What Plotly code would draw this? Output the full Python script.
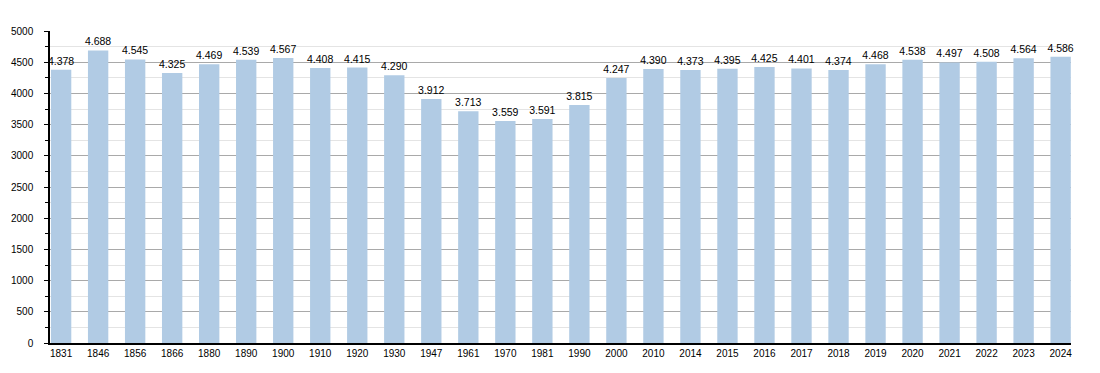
import plotly.graph_objects as go

years = ["1831", "1846", "1856", "1866", "1880", "1890", "1900", "1910", "1920", "1930",
         "1947", "1961", "1970", "1981", "1990", "2000", "2010", "2014", "2015", "2016",
         "2017", "2018", "2019", "2020", "2021", "2022", "2023", "2024"]
population = [4378, 4688, 4545, 4325, 4469, 4539, 4567, 4408, 4415, 4290,
              3912, 3713, 3559, 3591, 3815, 4247, 4390, 4373, 4395, 4425,
              4401, 4374, 4468, 4538, 4497, 4508, 4564, 4586]

fig = go.Figure(go.Bar(
    x=list(range(len(years))),
    y=population,
    width=0.55,
    marker=dict(color="#b1cbe4", line=dict(width=0)),
    texttemplate="%{y:,}",
    textposition="outside",
    constraintext="none",
    textfont=dict(family="Liberation Sans, Arial, sans-serif", size=10.5, color="#000"),
    cliponaxis=False,
    hoverinfo="skip",
))

fig.update_layout(
    width=1100, height=373,
    margin=dict(l=42, r=37, t=23, b=38, autoexpand=False),
    paper_bgcolor="white", plot_bgcolor="white",
    separators=",.",
    showlegend=False,
    font=dict(family="Liberation Sans, Arial, sans-serif", size=10, color="#000"),
    xaxis=dict(
        tickmode="array",
        tickvals=list(range(len(years))),
        ticktext=years,
        range=[-0.3, len(years) - 0.72],
        showgrid=False,
        showline=True, linecolor="#000", linewidth=1.5,
        ticks="", tickfont=dict(size=10),
        zeroline=False,
        automargin=False,
    ),
    yaxis=dict(
        range=[0, 5000],
        dtick=500,
        showgrid=True, gridcolor="#a9a9a9", gridwidth=1,
        showline=True, linecolor="#000", linewidth=1.5,
        ticks="outside", ticklen=4, tickcolor="#000",
        tickfont=dict(size=10),
        ticklabelstandoff=9,
        zeroline=False,
        automargin=False,
        minor=dict(dtick=250, showgrid=True, gridcolor="#e4e4e4",
                   ticks="outside", ticklen=3, tickcolor="#000"),
    ),
)

fig.write_html("out.html")
